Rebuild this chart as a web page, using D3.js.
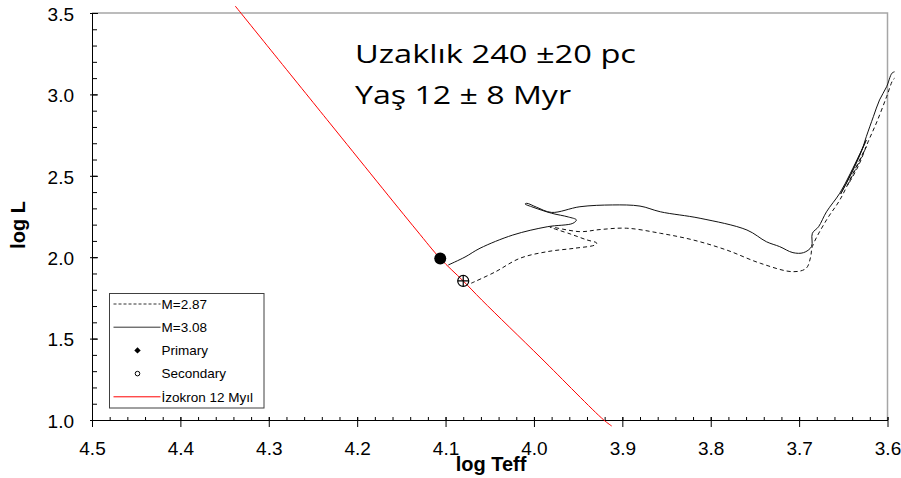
<!DOCTYPE html>
<html>
<head>
<meta charset="utf-8">
<script src="https://cdn.jsdelivr.net/npm/d3@7"></script>
<style>
  body { margin: 0; background: #fff; }
  svg { display: block; }
</style>
</head>
<body>
<div id="chart"></div>
<script>
var w = 901;
var h = 478;

// axis ticks
var xTicks = [4.5, 4.4, 4.3, 4.2, 4.1, 4.0, 3.9, 3.8, 3.7, 3.6];
var yTicks = [1.0, 1.5, 2.0, 2.5, 3.0, 3.5];

// evolutionary track M=2.87 (dashed)
var track287T = [4.071, 4.044, 4.016, 3.985, 3.954, 3.931, 3.929, 3.940, 3.959, 3.982,
                 3.948, 3.925, 3.895, 3.857, 3.820, 3.782, 3.744, 3.707, 3.692, 3.687,
                 3.685, 3.669, 3.654, 3.639, 3.624, 3.631, 3.645, 3.633, 3.622, 3.612,
                 3.601, 3.594, 3.592];
var track287L = [1.840, 1.909, 1.993, 2.034, 2.055, 2.075, 2.087, 2.106, 2.143, 2.186,
                 2.157, 2.170, 2.178, 2.147, 2.106, 2.044, 1.963, 1.911, 1.932, 2.001,
                 2.065, 2.229, 2.351, 2.515, 2.679, 2.597, 2.443, 2.560, 2.708, 2.832,
                 2.986, 3.088, 3.099];

// evolutionary track M=3.08 (solid)
var track308T = [4.097, 4.078, 4.061, 4.024, 3.985, 3.956, 3.952, 3.961, 3.980, 4.001,
                 4.010, 4.008, 3.997, 3.980, 3.948, 3.911, 3.880, 3.857, 3.812, 3.759,
                 3.737, 3.722, 3.707, 3.695, 3.686, 3.685, 3.678, 3.669, 3.654, 3.642,
                 3.631, 3.624, 3.630, 3.645, 3.653, 3.640, 3.629, 3.624, 3.616, 3.609,
                 3.601, 3.595, 3.592];
var track308L = [1.952, 2.001, 2.055, 2.136, 2.187, 2.208, 2.229, 2.247, 2.270, 2.307,
                 2.327, 2.331, 2.307, 2.275, 2.310, 2.321, 2.314, 2.279, 2.239, 2.167,
                 2.095, 2.065, 2.028, 2.028, 2.065, 2.147, 2.187, 2.279, 2.393, 2.515,
                 2.638, 2.720, 2.646, 2.474, 2.388, 2.523, 2.658, 2.740, 2.863, 2.966,
                 3.047, 3.130, 3.139];

// isochrone 12 Myr (red)
var isoT = [4.338, 4.231, 4.133, 4.106, 4.080, 4.059, 3.992, 3.921, 3.912];
var isoL = [3.543, 2.824, 2.167, 1.992, 1.854, 1.737, 1.381, 1.000, 0.963];

// observed components
var primaryT = 4.106, primaryL = 1.992;
var secondaryT = 4.080, secondaryL = 1.854;

var legendLabels = ["M=2.87", "M=3.08", "Primary", "Secondary", "\u0130zokron 12 My\u0131l"];
var noteLines = ["Uzakl\u0131k 240 \u00B120 pc", "Ya\u015F 12 \u00B1 8 Myr"];

var x = d3.scaleLinear().domain([4.5, 3.6]).range([92, 887.5]);
var y = d3.scaleLinear().domain([1.0, 3.5]).range([420, 13]);

var svg = d3.select("#chart")
            .append("svg")
            .attr("width", w)
            .attr("height", h)
            .style("font-family", "'Liberation Sans', Arial, sans-serif");

// gray frame on top and right
svg.append("path")
   .attr("d", `M${x(4.5)},${y(3.5)}H${x(3.6)}V${y(1.0)}`)
   .attr("fill", "none")
   .attr("stroke", "#a6a6a6")
   .attr("stroke-width", 1.5);

// minor ticks
var xMinor = d3.range(0, 46).map(i => +(4.5 - i * 0.02).toFixed(2));
var yMinor = d3.range(0, 26).map(i => +(1.0 + i * 0.1).toFixed(1));

svg.append("g")
   .attr("transform", `translate(0, ${y(1.0)})`)
   .call(d3.axisTop(x).tickValues(xMinor).tickSize(3).tickFormat(""))
   .call(g => g.select(".domain").remove());

svg.append("g")
   .attr("transform", `translate(${x(4.5)}, 0)`)
   .call(d3.axisRight(y).tickValues(yMinor).tickSize(5).tickFormat(""))
   .call(g => g.select(".domain").remove());

// major x axis
var xAxis = svg.append("g")
   .attr("transform", `translate(0, ${y(1.0)})`)
   .call(d3.axisBottom(x).tickValues(xTicks).tickSizeOuter(0).tickFormat(d3.format(".1f")));
xAxis.selectAll(".tick line").attr("y1", -3).attr("y2", 7);
xAxis.selectAll(".tick text").attr("y", 0).attr("dy", "35px")
     .style("font-size", "19px").attr("fill", "#000");

// major y axis
var yAxis = svg.append("g")
   .attr("transform", `translate(${x(4.5)}, 0)`)
   .call(d3.axisLeft(y).tickValues(yTicks).tickSizeOuter(0).tickFormat(d3.format(".1f")));
yAxis.selectAll(".tick line").attr("x1", -2).attr("x2", 6);
yAxis.selectAll(".tick text").attr("x", -18).attr("dy", "0.38em")
     .style("font-size", "19px").attr("fill", "#000");

// axis titles
svg.append("text")
   .attr("x", 491)
   .attr("y", 471)
   .attr("text-anchor", "middle")
   .style("font-size", "20px")
   .style("font-weight", "bold")
   .text("log Teff");

svg.append("text")
   .attr("transform", "translate(25, 225) rotate(-90)")
   .attr("text-anchor", "middle")
   .style("font-size", "20px")
   .style("font-weight", "bold")
   .text("log L");

// isochrone
var line = d3.line().x(d => x(d[0])).y(d => y(d[1]));
var smooth = d3.line().x(d => x(d[0])).y(d => y(d[1])).curve(d3.curveCatmullRom.alpha(0.5));

svg.append("path")
   .datum(d3.zip(isoT, isoL))
   .attr("d", smooth)
   .attr("fill", "none")
   .attr("stroke", "#ff0000")
   .attr("stroke-width", 1);

// tracks
svg.append("path")
   .datum(d3.zip(track287T, track287L))
   .attr("d", smooth)
   .attr("fill", "none")
   .attr("stroke", "#111")
   .attr("stroke-width", 1)
   .attr("stroke-dasharray", "4,3");

svg.append("path")
   .datum(d3.zip(track308T, track308L))
   .attr("d", smooth)
   .attr("fill", "none")
   .attr("stroke", "#111")
   .attr("stroke-width", 1);

// stars
svg.append("circle")
   .attr("cx", x(primaryT))
   .attr("cy", y(primaryL))
   .attr("r", 6)
   .attr("fill", "#000");

var sx = x(secondaryT), sy = y(secondaryL);
svg.append("circle")
   .attr("cx", sx)
   .attr("cy", sy)
   .attr("r", 5.5)
   .attr("fill", "none")
   .attr("stroke", "#000")
   .attr("stroke-width", 1.2);
svg.append("path")
   .attr("d", `M${sx - 5.5},${sy}H${sx + 5.5}M${sx},${sy - 5.5}V${sy + 5.5}`)
   .attr("stroke", "#000")
   .attr("stroke-width", 1.2);

// legend
var legend = svg.append("g").attr("transform", "translate(109.5, 293.5)");
legend.append("rect")
      .attr("width", 154.5)
      .attr("height", 114.5)
      .attr("fill", "#fff")
      .attr("stroke", "#404040")
      .attr("stroke-width", 1);

var rowY = i => 10.5 + i * 23.2;

legend.selectAll("text.lab")
      .data(legendLabels)
      .enter()
      .append("text")
      .attr("class", "lab")
      .attr("x", 52)
      .attr("y", (d, i) => rowY(i))
      .attr("dy", "0.36em")
      .style("font-size", "13.5px")
      .attr("fill", "#000")
      .text(d => d);

legend.append("line").attr("x1", 4).attr("x2", 51).attr("y1", rowY(0)).attr("y2", rowY(0))
      .attr("stroke", "#333").attr("stroke-dasharray", "3,2");
legend.append("line").attr("x1", 4).attr("x2", 51).attr("y1", rowY(1)).attr("y2", rowY(1))
      .attr("stroke", "#333");
legend.append("path")
      .attr("d", d3.symbol(d3.symbolDiamond2, 26)())
      .attr("transform", `translate(28, ${rowY(2)})`)
      .attr("fill", "#000");
legend.append("circle")
      .attr("cx", 28).attr("cy", rowY(3)).attr("r", 2.3)
      .attr("fill", "none").attr("stroke", "#000").attr("stroke-width", 1);
legend.append("line").attr("x1", 4).attr("x2", 51).attr("y1", rowY(4)).attr("y2", rowY(4))
      .attr("stroke", "#ff0000");

// distance / age note
svg.selectAll("text.note")
   .data(noteLines)
   .enter()
   .append("text")
   .attr("class", "note")
   .attr("x", 355)
   .attr("y", (d, i) => 63 + i * 41)
   .attr("textLength", (d, i) => i === 0 ? 281 : 216)
   .attr("lengthAdjust", "spacingAndGlyphs")
   .style("font-family", "'Open Sans', sans-serif")
   .style("font-size", "26px")
   .attr("fill", "#000")
   .text(d => d);
</script>
</body>
</html>
